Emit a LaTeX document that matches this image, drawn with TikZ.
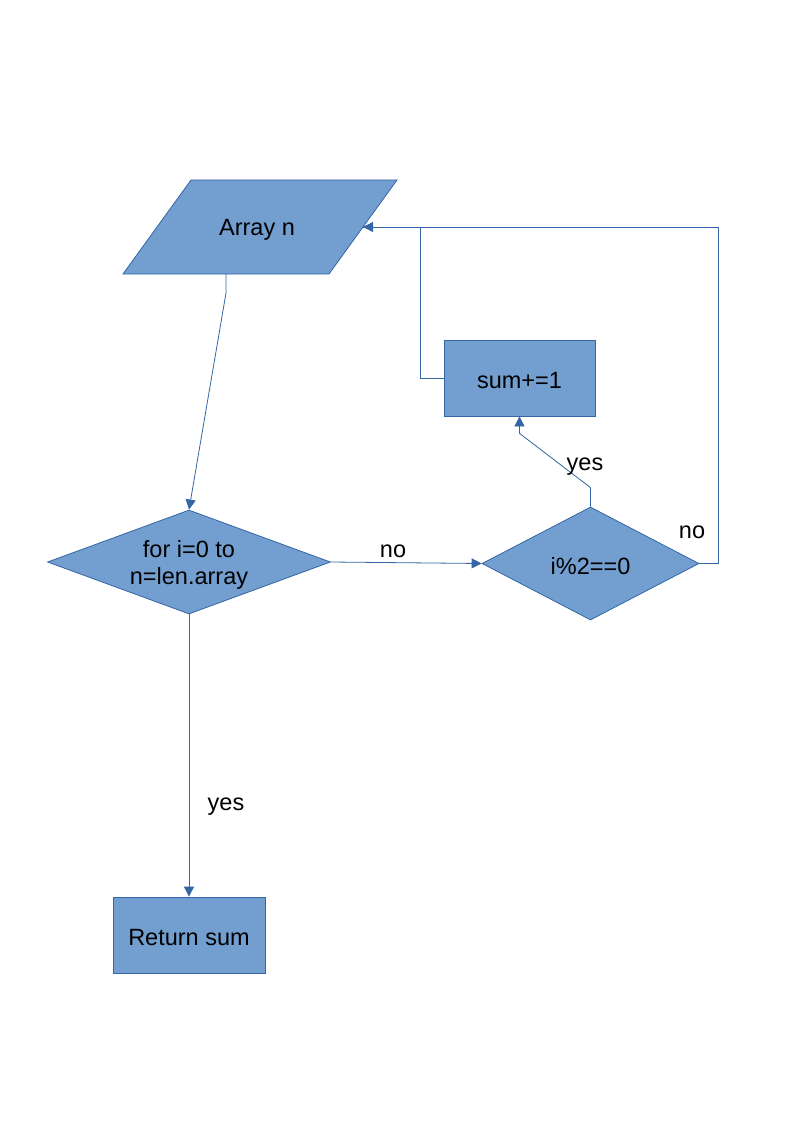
\documentclass[tikz,border=0pt]{standalone}
\usepackage{fontspec}
\setmainfont{Liberation Sans}
\usetikzlibrary{shapes.geometric,arrows.meta,calc}
\definecolor{boxfill}{HTML}{729FCF}
\definecolor{boxline}{HTML}{3465A4}
\tikzset{
  shapebox/.style={draw=boxline, fill=boxfill, line width=0.8pt},
  rectbox/.style={shapebox, rectangle, inner sep=0pt},
  diabox/.style={shapebox, diamond, inner sep=0pt},
  txt/.style={font=\fontsize{23.5}{27}\selectfont, text=black, inner sep=0pt, align=center, yshift=-3pt},
  conn/.style={draw=boxline, line width=0.8pt},
  arrowconn/.style={conn, -{Triangle[length=10pt,width=10pt]}}
}
\begin{document}
\begin{tikzpicture}[x=1pt,y=-1pt]
\useasboundingbox (0,0) rectangle (794,1123);
% parallelogram input
\draw[shapebox] (191,180) -- (397,180) -- (329,274) -- (123,274) -- cycle;
\coordinate (pb) at (226,274);
\coordinate (pr) at (363,227);
\node[txt] (arr) at (257,227) {Array n};
% process boxes
\node[rectbox, minimum width=151pt, minimum height=76pt] (sum) at (519.5,378) {};
\node[txt] (sumt) at (sum.center) {sum+=1};
\node[rectbox, minimum width=152pt, minimum height=76pt] (ret) at (189,935) {};
\node[txt] (rett) at (ret.center) {Return sum};
% decisions
\node[diabox, minimum width=283pt, minimum height=104pt] (loop) at (189,562) {};
\node[txt] (loopt) at (loop.center) {for i=0 to\\n=len.array};
\node[diabox, minimum width=217pt, minimum height=113pt] (even) at (590.5,563.5) {};
\node[txt] (event) at (even.center) {i\%2==0};
% connectors
\draw[arrowconn] (pb) -- ++(0,19) -- (loop.north);
\draw[arrowconn] (loop.east) -- (even.west);
\draw[arrowconn] (even.north) -- ++(0,-19) -- ($(sum.south)+(0,17)$) -- (sum.south);
\draw[arrowconn] (even.east) -- ++(19,0) |- (pr);
\draw[conn] (sum.west) -- ++(-23,0) |- (pr);
\draw[arrowconn] (loop.south) -- (ret.north);
% labels
\node[txt] (lno1) at (393,548) {no};
\node[txt] (lyes1) at (585,464) {yes};
\node[txt] (lno2) at (692,529) {no};
\node[txt] (lyes2) at (226,804) {yes};
\end{tikzpicture}
\end{document}
